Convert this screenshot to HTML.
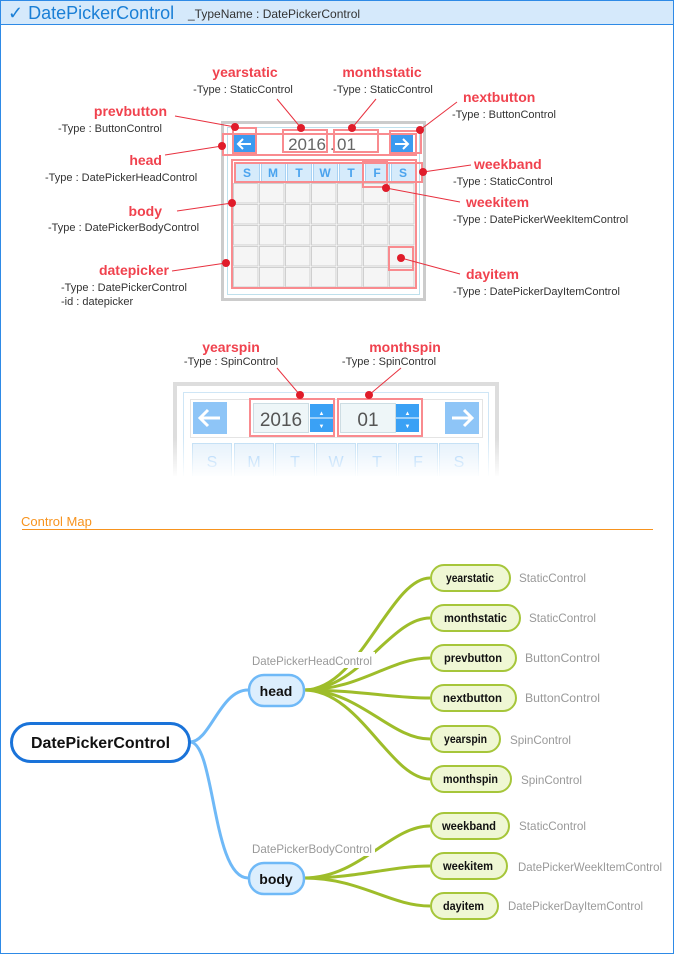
<!DOCTYPE html>
<html><head><meta charset="utf-8"><style>
html,body{margin:0;padding:0;background:#fff}
svg{display:block}
text{font-family:"Liberation Sans",sans-serif}
</style></head><body>
<svg width="674" height="954" viewBox="0 0 674 954" xmlns="http://www.w3.org/2000/svg">
<defs>
<pattern id="grid" x="233" y="183" width="26" height="21" patternUnits="userSpaceOnUse">
<rect x="0.5" y="0.5" width="24.5" height="19.5" fill="#f5f5f5" stroke="#cfcfcf" stroke-width="1"/>
</pattern>
<linearGradient id="fade" x1="0" y1="0" x2="0" y2="1">
<stop offset="0" stop-color="#fff" stop-opacity="0"/>
<stop offset="1" stop-color="#fff" stop-opacity="1"/>
</linearGradient>
</defs>
<rect x="0.5" y="0.5" width="673" height="953" fill="#fff" stroke="#2e8ae6"/>
<rect x="1" y="1" width="672" height="23" fill="#d5e9fb"/>
<line x1="1" y1="24.5" x2="673" y2="24.5" stroke="#2e8ae6"/>
<text x="8" y="19" font-size="18" fill="#1a7fd6">✓ DatePickerControl</text>
<text x="188" y="18" font-size="12" fill="#333">_TypeName : DatePickerControl</text>

<!-- calendar 1 -->
<rect x="222.5" y="122.5" width="202" height="177" fill="#fff" stroke="#cccccc" stroke-width="3"/>
<rect x="227.5" y="127.5" width="192" height="167" fill="#fff" stroke="#bfe0ec"/>
<rect x="234" y="135" width="21" height="18" fill="#3b9af0"/>
<path d="M238,144 H251 M243,139 L238,144 L243,149" fill="none" stroke="#fff" stroke-width="2"/>
<rect x="391" y="135" width="22" height="18" fill="#3b9af0"/>
<path d="M395,144 H408 M403,139 L408,144 L403,149" fill="none" stroke="#fff" stroke-width="2"/>
<text x="307" y="150" font-size="17" fill="#666" text-anchor="middle">2016</text>
<text x="330" y="150" font-size="16" fill="#666">.</text>
<text x="337" y="150" font-size="17" fill="#666">01</text>
<g fill="#d6ebfb" stroke="#a9d2f3">
<rect x="235.5" y="162.5" width="24" height="19"/><rect x="261.5" y="162.5" width="24" height="19"/><rect x="287.5" y="162.5" width="24" height="19"/><rect x="313.5" y="162.5" width="24" height="19"/><rect x="339.5" y="162.5" width="24" height="19"/><rect x="365.5" y="162.5" width="24" height="19"/><rect x="391.5" y="162.5" width="24" height="19"/>
</g>
<g font-size="12" fill="#4aa3ee" text-anchor="middle" font-weight="bold">
<text x="247" y="177">S</text><text x="273" y="177">M</text><text x="299" y="177">T</text><text x="325" y="177">W</text><text x="351" y="177">T</text><text x="377" y="177">F</text><text x="403" y="177">S</text>
</g>
<rect x="233" y="183" width="182" height="105" fill="url(#grid)"/>
<g fill="none" stroke="#f98b8f" stroke-width="2">
<rect x="223" y="134" width="193" height="21"/>
<rect x="233" y="128" width="23" height="25"/>
<rect x="283" y="130" width="44" height="22"/>
<rect x="334" y="130" width="44" height="22"/>
<rect x="390" y="131" width="31" height="22"/>
<rect x="235" y="163" width="187" height="19"/>
<rect x="363" y="162" width="24" height="25"/>
<rect x="232" y="160" width="184" height="128"/>
<rect x="389" y="247" width="24" height="23"/>
</g>
<g stroke="#e8313f" stroke-width="1">
<line x1="175" y1="116" x2="235" y2="127"/>
<line x1="277" y1="99" x2="301" y2="128"/>
<line x1="376" y1="99" x2="352" y2="128"/>
<line x1="457" y1="102" x2="420" y2="130"/>
<line x1="165" y1="155" x2="222" y2="146"/>
<line x1="471" y1="165" x2="423" y2="172"/>
<line x1="460" y1="202" x2="386" y2="188"/>
<line x1="177" y1="211" x2="232" y2="203"/>
<line x1="460" y1="274" x2="401" y2="258"/>
<line x1="172" y1="271" x2="226" y2="263"/>
</g>
<g fill="#e01c2a">
<circle cx="235" cy="127" r="4"/><circle cx="301" cy="128" r="4"/><circle cx="352" cy="128" r="4"/><circle cx="420" cy="130" r="4"/><circle cx="222" cy="146" r="4"/><circle cx="423" cy="172" r="4"/><circle cx="386" cy="188" r="4"/><circle cx="232" cy="203" r="4"/><circle cx="401" cy="258" r="4"/><circle cx="226" cy="263" r="4"/>
</g>
<g font-size="14" font-weight="bold" fill="#f0424e">
<text x="245" y="77" text-anchor="middle">yearstatic</text>
<text x="382" y="77" text-anchor="middle">monthstatic</text>
<text x="463" y="102">nextbutton</text>
<text x="167" y="116" text-anchor="end">prevbutton</text>
<text x="162" y="165" text-anchor="end">head</text>
<text x="162" y="216" text-anchor="end">body</text>
<text x="169" y="275" text-anchor="end">datepicker</text>
<text x="474" y="169">weekband</text>
<text x="466" y="207">weekitem</text>
<text x="466" y="279">dayitem</text>
</g>
<g font-size="11" fill="#333">
<text x="243" y="93" text-anchor="middle">-Type : StaticControl</text>
<text x="383" y="93" text-anchor="middle">-Type : StaticControl</text>
<text x="452" y="118">-Type : ButtonControl</text>
<text x="58" y="132">-Type : ButtonControl</text>
<text x="45" y="181">-Type : DatePickerHeadControl</text>
<text x="48" y="231">-Type : DatePickerBodyControl</text>
<text x="61" y="291">-Type : DatePickerControl</text>
<text x="61" y="305">-id : datepicker</text>
<text x="453" y="185">-Type : StaticControl</text>
<text x="453" y="223">-Type : DatePickerWeekItemControl</text>
<text x="453" y="295">-Type : DatePickerDayItemControl</text>
</g>

<!-- calendar 2 -->
<rect x="175" y="384" width="322" height="100" fill="#fff" stroke="#dddddd" stroke-width="4"/>
<rect x="183.5" y="392.5" width="305" height="90" fill="#fff" stroke="#cfe6f6"/>
<rect x="190.5" y="399.5" width="292" height="38" fill="#fff" stroke="#e4e4e4"/>
<rect x="193" y="402" width="34" height="32" fill="#8ec5f7"/>
<path d="M200,418 H220 M208,410 L200,418 L208,426" fill="none" stroke="#fff" stroke-width="3"/>
<rect x="445" y="402" width="34" height="32" fill="#8ec5f7"/>
<path d="M452,418 H472 M464,410 L472,418 L464,426" fill="none" stroke="#fff" stroke-width="3"/>
<rect x="253.5" y="403.5" width="55" height="29" fill="#eef6f8" stroke="#cddde3"/>
<text x="281" y="426" font-size="19" fill="#555" text-anchor="middle">2016</text>
<rect x="310" y="404" width="23" height="28" fill="#3aa1f5"/>
<line x1="310" y1="418" x2="333" y2="418" stroke="#fff"/>
<text x="321.5" y="415" font-size="6" fill="#fff" text-anchor="middle">▲</text>
<text x="321.5" y="428" font-size="6" fill="#fff" text-anchor="middle">▼</text>
<rect x="340.5" y="403.5" width="55" height="29" fill="#eef6f8" stroke="#cddde3"/>
<text x="368" y="426" font-size="19" fill="#555" text-anchor="middle">01</text>
<rect x="396" y="404" width="23" height="28" fill="#3aa1f5"/>
<line x1="396" y1="418" x2="419" y2="418" stroke="#fff"/>
<text x="407.5" y="415" font-size="6" fill="#fff" text-anchor="middle">▲</text>
<text x="407.5" y="428" font-size="6" fill="#fff" text-anchor="middle">▼</text>
<g fill="#e3f0fb" stroke="#bcdcf4">
<rect x="192.5" y="443.5" width="39" height="36"/><rect x="234.5" y="443.5" width="39" height="36"/><rect x="275.5" y="443.5" width="39" height="36"/><rect x="316.5" y="443.5" width="39" height="36"/><rect x="357.5" y="443.5" width="39" height="36"/><rect x="398.5" y="443.5" width="39" height="36"/><rect x="439.5" y="443.5" width="39" height="36"/>
</g>
<g font-size="16" fill="#8ec5f7" text-anchor="middle">
<text x="212" y="467">S</text><text x="254" y="467">M</text><text x="295" y="467">T</text><text x="336" y="467">W</text><text x="377" y="467">T</text><text x="418" y="467">F</text><text x="459" y="467">S</text>
</g>
<rect x="170" y="438" width="334" height="40" fill="url(#fade)"/>
<rect x="170" y="476" width="334" height="20" fill="#fff"/>
<g fill="none" stroke="#f98b8f" stroke-width="2">
<rect x="250" y="399" width="84" height="37"/>
<rect x="338" y="399" width="84" height="37"/>
</g>
<g stroke="#e8313f" stroke-width="1">
<line x1="277" y1="368" x2="300" y2="395"/>
<line x1="401" y1="368" x2="369" y2="395"/>
</g>
<circle cx="300" cy="395" r="4" fill="#e01c2a"/><circle cx="369" cy="395" r="4" fill="#e01c2a"/>
<text x="231" y="352" font-size="14" font-weight="bold" fill="#f0424e" text-anchor="middle">yearspin</text>
<text x="405" y="352" font-size="14" font-weight="bold" fill="#f0424e" text-anchor="middle">monthspin</text>
<text x="231" y="365" font-size="11" fill="#333" text-anchor="middle">-Type : SpinControl</text>
<text x="389" y="365" font-size="11" fill="#333" text-anchor="middle">-Type : SpinControl</text>

<!-- control map -->
<text x="21" y="526" font-size="13" fill="#f7931e">Control Map</text>
<line x1="22" y1="529.5" x2="653" y2="529.5" stroke="#f7931e"/>

<g fill="none" stroke="#6fb9f7" stroke-width="3">
<path d="M190,742 C210,742 220,690 248,690"/>
<path d="M190,742 C215,742 212,878 248,878"/>
</g>
<g fill="none" stroke="#9ebd2a" stroke-width="3">
<path d="M304,690 C360,690 390,578 430,578"/>
<path d="M304,690 C360,690 390,618 430,618"/>
<path d="M304,690 C360,690 390,658 430,658"/>
<path d="M304,690 C360,690 390,698 430,698"/>
<path d="M304,690 C360,690 390,739 430,739"/>
<path d="M304,690 C360,690 390,779 430,779"/>
<path d="M304,878 C360,878 390,826 430,826"/>
<path d="M304,878 C360,878 390,866 430,866"/>
<path d="M304,878 C360,878 390,906 430,906"/>
</g>
<rect x="251" y="652" width="124" height="16" fill="#fff"/>
<rect x="251" y="840" width="124" height="16" fill="#fff"/>
<text x="252" y="665" font-size="12" fill="#999" textLength="120" lengthAdjust="spacingAndGlyphs">DatePickerHeadControl</text>
<text x="252" y="853" font-size="12" fill="#999" textLength="120" lengthAdjust="spacingAndGlyphs">DatePickerBodyControl</text>

<rect x="11.5" y="723.5" width="178" height="38" rx="19" fill="#fff" stroke="#1a73d9" stroke-width="3"/>
<text x="31" y="748" font-size="16" font-weight="bold" fill="#111" textLength="139" lengthAdjust="spacingAndGlyphs">DatePickerControl</text>
<g fill="#dceefd" stroke="#6fb9f7" stroke-width="2.5">
<rect x="249" y="675" width="55" height="31" rx="15"/>
<rect x="249" y="863" width="55" height="31" rx="15"/>
</g>
<text x="276" y="696" font-size="14" font-weight="bold" fill="#111" text-anchor="middle">head</text>
<text x="276" y="884" font-size="14" font-weight="bold" fill="#111" text-anchor="middle">body</text>
<g fill="#eff7d4" stroke="#a6c63a" stroke-width="2">
<rect x="431" y="565" width="79" height="26" rx="13"/>
<rect x="431" y="605" width="89" height="26" rx="13"/>
<rect x="431" y="645" width="85" height="26" rx="13"/>
<rect x="431" y="685" width="85" height="26" rx="13"/>
<rect x="431" y="726" width="69" height="26" rx="13"/>
<rect x="431" y="766" width="80" height="26" rx="13"/>
<rect x="431" y="813" width="78" height="26" rx="13"/>
<rect x="431" y="853" width="76" height="26" rx="13"/>
<rect x="431" y="893" width="67" height="26" rx="13"/>
</g>
<g font-size="12" font-weight="bold" fill="#111" lengthAdjust="spacingAndGlyphs">
<text x="446" y="582" textLength="48" lengthAdjust="spacingAndGlyphs">yearstatic</text>
<text x="444" y="622" textLength="63" lengthAdjust="spacingAndGlyphs">monthstatic</text>
<text x="444" y="662" textLength="58" lengthAdjust="spacingAndGlyphs">prevbutton</text>
<text x="443" y="702" textLength="59" lengthAdjust="spacingAndGlyphs">nextbutton</text>
<text x="444" y="743" textLength="43" lengthAdjust="spacingAndGlyphs">yearspin</text>
<text x="443" y="783" textLength="55" lengthAdjust="spacingAndGlyphs">monthspin</text>
<text x="442" y="830" textLength="54" lengthAdjust="spacingAndGlyphs">weekband</text>
<text x="443" y="870" textLength="50" lengthAdjust="spacingAndGlyphs">weekitem</text>
<text x="443" y="910" textLength="41" lengthAdjust="spacingAndGlyphs">dayitem</text>
</g>
<g font-size="12" fill="#999">
<text x="519" y="582" textLength="67" lengthAdjust="spacingAndGlyphs">StaticControl</text>
<text x="529" y="622" textLength="67" lengthAdjust="spacingAndGlyphs">StaticControl</text>
<text x="525" y="662" textLength="75" lengthAdjust="spacingAndGlyphs">ButtonControl</text>
<text x="525" y="702" textLength="75" lengthAdjust="spacingAndGlyphs">ButtonControl</text>
<text x="510" y="744" textLength="61" lengthAdjust="spacingAndGlyphs">SpinControl</text>
<text x="521" y="784" textLength="61" lengthAdjust="spacingAndGlyphs">SpinControl</text>
<text x="519" y="830" textLength="67" lengthAdjust="spacingAndGlyphs">StaticControl</text>
<text x="518" y="871" textLength="144" lengthAdjust="spacingAndGlyphs">DatePickerWeekItemControl</text>
<text x="508" y="910" textLength="135" lengthAdjust="spacingAndGlyphs">DatePickerDayItemControl</text>
</g>
</svg>
</body></html>
